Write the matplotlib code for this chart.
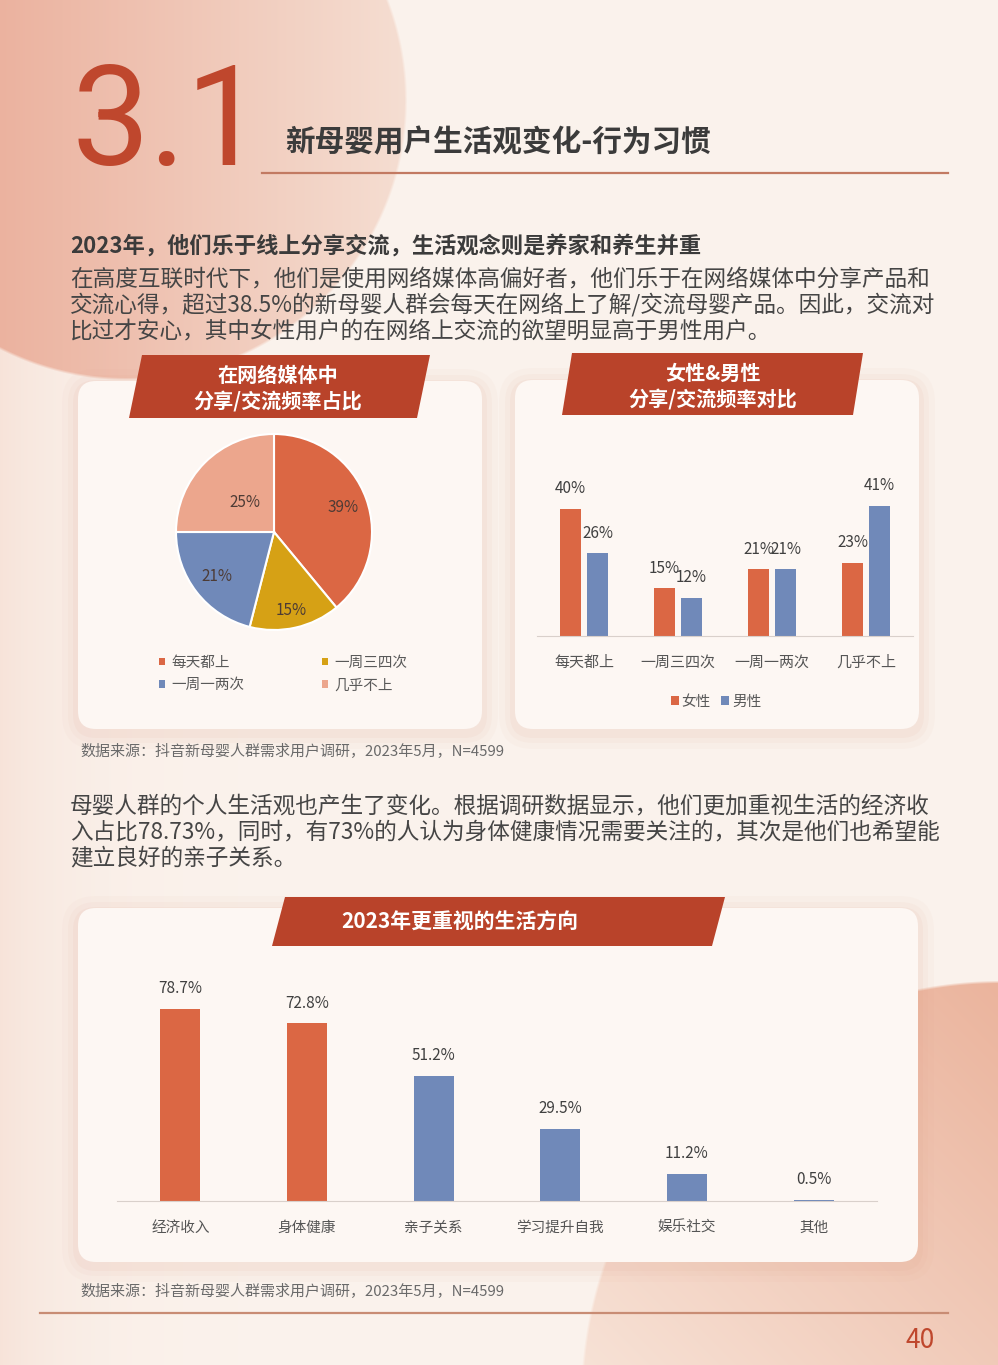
import numpy as np
import matplotlib
matplotlib.use('Agg')
import matplotlib.pyplot as plt
from matplotlib.patches import FancyBboxPatch, Polygon, Patch

plt.rcParams['font.family'] = ['Noto Sans CJK SC', 'DejaVu Sans']

W, H = 998, 1365

# chart data
freq_labels = ['每天都上', '一周三四次', '一周一两次', '几乎不上']
freq_share = [39, 15, 21, 25]
gender_labels = ['女性', '男性']
female_share = [40, 15, 21, 23]
male_share = [26, 12, 21, 41]
focus_labels = ['经济收入', '身体健康', '亲子关系', '学习提升自我', '娱乐社交', '其他']
focus_share = [78.7, 72.8, 51.2, 29.5, 11.2, 0.5]

RED = '#db6744'
BLUE = '#7089b9'
GOLD = '#d6a115'
PEACH = '#eca68d'
BANNER = '#b9432a'
ACCENT = '#bf472d'
DARK = '#3b3b3b'
GREY = '#555555'


def px_axes(fig, x0, y0, x1, y1):
    return fig.add_axes([x0 / W, 1 - y1 / H, (x1 - x0) / W, (y1 - y0) / H])


def make_background():
    yy, xx = np.mgrid[0:H, 0:W].astype(float)
    img = np.ones((H, W, 3)) * np.array([251, 243, 237]) / 255
    # pink wash at the left edge
    a = (0.5 * np.exp(-xx / 80))[..., None]
    img = img * (1 - a) + np.array([243, 212, 198]) / 255 * a
    # big circle top left
    d = np.hypot(xx - 127, yy - 100)
    m = np.clip((280 - d) / 3, 0, 1)[..., None]
    t = np.clip((xx + 153) / 560, 0, 1)[..., None]
    col = np.array([232, 162, 140]) / 255 * (1 - t) + np.array([245, 222, 210]) / 255 * t
    img = img * (1 - m) + col * m
    # circle bottom right
    d = np.hypot(xx - 1000, yy - 1400)
    m = np.clip((420 - d) / 3, 0, 1)[..., None]
    t = np.clip(((xx - 580) + (1365 - yy)) / 800, 0, 1)[..., None]
    col = np.array([247, 226, 214]) / 255 * (1 - t) + np.array([235, 180, 157]) / 255 * t
    img = img * (1 - m) + col * m
    return img


def card(ax, x0, y0, x1, y1):
    for k, a in [(16, 0.04), (10, 0.05), (5, 0.07)]:
        ax.add_patch(FancyBboxPatch((x0 - k, y0 - k + 4), x1 - x0 + 2 * k, y1 - y0 + 2 * k,
                                    boxstyle=f'round,pad=0,rounding_size={18 + k}',
                                    fc='#dd9a80', ec='none', alpha=a))
    ax.add_patch(FancyBboxPatch((x0, y0), x1 - x0, y1 - y0,
                                boxstyle='round,pad=0,rounding_size=18',
                                fc='#fdf7f3', ec='none'))


def banner(ax, xl, xr, yt, yb, slant, lines, cx, ys, size):
    ax.add_patch(Polygon([(xl + slant, yt), (xr, yt), (xr - slant, yb), (xl, yb)],
                         closed=True, fc=BANNER, ec='none'))
    for s, y in zip(lines, ys):
        ax.text(cx, y, s, color='white', fontsize=size, fontweight='bold',
                ha='center', va='center')


fig = plt.figure(figsize=(W / 100, H / 100), dpi=100)

bg = fig.add_axes([0, 0, 1, 1])
bg.imshow(make_background(), extent=(0, W, H, 0), aspect='auto', interpolation='bilinear')
bg.set_xlim(0, W)
bg.set_ylim(H, 0)
bg.axis('off')

# header
bg.text(72, 165, '3.1', fontsize=100, color=ACCENT, family=['Roboto', 'DejaVu Sans'],
        fontweight='normal', va='baseline', ha='left')
bg.text(285, 142, '新母婴用户生活观变化-行为习惯', fontsize=21.3, fontweight='bold',
        color=DARK, va='center', ha='left')
bg.plot([262, 948], [173, 173], color='#c27a62', lw=1.6)

bg.text(70, 246, '2023年，他们乐于线上分享交流，生活观念则是养家和养生并重', fontsize=16,
        fontweight='bold', color=DARK, va='center')
para1 = ['在高度互联时代下，他们是使用网络媒体高偏好者，他们乐于在网络媒体中分享产品和',
         '交流心得，超过38.5%的新母婴人群会每天在网络上了解/交流母婴产品。因此，交流对',
         '比过才安心，其中女性用户的在网络上交流的欲望明显高于男性用户。']
for i, s in enumerate(para1):
    bg.text(70, 279 + 26 * i, s, fontsize=16.3, color='#454545', va='center')

# cards
card(bg, 78, 381, 482, 729)
card(bg, 515, 380, 919, 729)
card(bg, 78, 908, 918, 1262)

banner(bg, 129, 430, 355, 418, 13, ['在网络媒体中', '分享/交流频率占比'], 278, [376, 401], 14.5)
banner(bg, 562, 863, 353, 415, 10, ['女性&男性', '分享/交流频率对比'], 713, [373, 399], 14.5)
banner(bg, 272, 725, 897, 946, 13, ['2023年更重视的生活方向'], 460, [922], 15)

src = '数据来源：抖音新母婴人群需求用户调研，2023年5月，N=4599'
bg.text(80, 751, src, fontsize=10.8, color='#6a6a6a', va='center')
bg.text(80, 1291, src, fontsize=10.8, color='#6a6a6a', va='center')

para2 = ['母婴人群的个人生活观也产生了变化。根据调研数据显示，他们更加重视生活的经济收',
         '入占比78.73%，同时，有73%的人认为身体健康情况需要关注的，其次是他们也希望能',
         '建立良好的亲子关系。']
for i, s in enumerate(para2):
    bg.text(70, 806 + 26 * i, s, fontsize=16.3, color='#454545', va='center')

bg.plot([40, 948], [1313, 1313], color='#c88c74', lw=1.6)
bg.text(920, 1341, '40', fontsize=19, color=ACCENT, ha='center', va='center')

# pie chart
ax1 = px_axes(fig, 176, 434, 372, 630)
wedges, _ = ax1.pie(freq_share, colors=[RED, GOLD, BLUE, PEACH], startangle=90,
                    counterclock=False, radius=1,
                    wedgeprops=dict(edgecolor='white', linewidth=1.5))
ax1.set_xlim(-1, 1)
ax1.set_ylim(-1, 1)
ax1.set_aspect('equal')
label_r = [0.75, 0.82, 0.74, 0.42]
for w, v, r in zip(wedges, freq_share, label_r):
    mid = np.deg2rad((w.theta1 + w.theta2) / 2)
    ax1.text(r * np.cos(mid), r * np.sin(mid), f'{v}%', ha='center', va='center',
             fontsize=11, color='#4d3b35')
order = [0, 2, 1, 3]
ax1.legend([Patch(facecolor=wedges[i].get_facecolor()) for i in order],
           [freq_labels[i] for i in order], ncol=2, loc='center',
           bbox_to_anchor=(283 / W, 1 - 674 / H), bbox_transform=fig.transFigure,
           frameon=False, fontsize=10.5, handlelength=0.45, handleheight=0.45,
           handletextpad=0.4, columnspacing=5.3, labelspacing=0.6, labelcolor='#595959')

# grouped bar chart
ax2 = px_axes(fig, 537, 476, 913, 636)
x = np.arange(len(freq_labels))
bw = 0.224
off = 0.144
bf = ax2.bar(x - off, female_share, bw, color=RED)
bm = ax2.bar(x + off, male_share, bw, color=BLUE)
for bars, vals in [(bf, female_share), (bm, male_share)]:
    for b, v in zip(bars, vals):
        ax2.annotate(f'{v}%', (b.get_x() + b.get_width() / 2, v), xytext=(0, 14.4),
                     textcoords='offset points', ha='center', va='center',
                     fontsize=11, color='#404040')
ax2.set_xlim(-0.5, 3.5)
ax2.set_ylim(0, 50.3)
ax2.set_xticks(x)
ax2.set_xticklabels(freq_labels, fontsize=10.8, color=GREY)
ax2.tick_params(axis='x', length=0, pad=14)
ax2.set_yticks([])
for s in ['top', 'right', 'left']:
    ax2.spines[s].set_visible(False)
ax2.spines['bottom'].set_color('#d9d0cb')
ax2.patch.set_alpha(0)
ax2.legend([bf, bm], gender_labels, ncol=2, loc='center',
           bbox_to_anchor=(716 / W, 1 - 702 / H), bbox_transform=fig.transFigure,
           frameon=False, fontsize=10.5, handlelength=0.55, handleheight=0.55,
           handletextpad=0.2, columnspacing=0.7, labelcolor='#595959')

# life focus bar chart
ax3 = px_axes(fig, 117, 961, 877, 1201)
x3 = np.arange(len(focus_labels))
cols = [RED, RED, BLUE, BLUE, BLUE, BLUE]
b3 = ax3.bar(x3, focus_share, 0.316, color=cols)
for b, v in zip(b3, focus_share):
    ax3.annotate(f'{v}%', (b.get_x() + b.get_width() / 2, v), xytext=(0, 14.4),
                 textcoords='offset points', ha='center', va='center',
                 fontsize=11, color='#404040')
ax3.set_xlim(-0.5, 5.5)
ax3.set_ylim(0, 98.2)
ax3.set_xticks(x3)
ax3.set_xticklabels(focus_labels, fontsize=10.5, color=GREY)
ax3.tick_params(axis='x', length=0, pad=14)
ax3.set_yticks([])
for s in ['top', 'right', 'left']:
    ax3.spines[s].set_visible(False)
ax3.spines['bottom'].set_color('#d9d0cb')
ax3.patch.set_alpha(0)

fig.savefig('out.png', dpi=100)
